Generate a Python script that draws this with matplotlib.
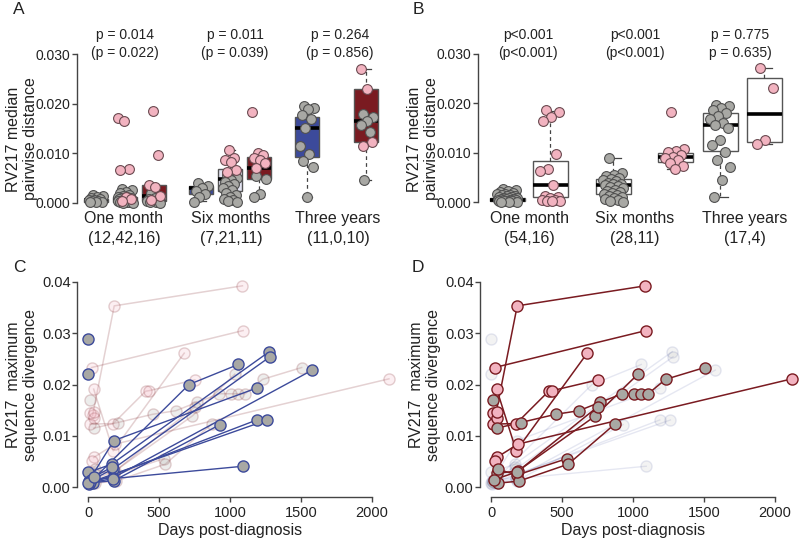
import matplotlib
matplotlib.use('Agg')
import matplotlib.pyplot as plt
import numpy as np

plt.rcParams['font.family'] = ['Liberation Sans', 'DejaVu Sans']

# ------------------------------------------------------------------ data
# Panel A: boxes (order: OM blue, OM lavender, OM red, SM blue, SM lav, SM red, TY blue, TY red)
a_group_labels = ['One month', 'Six months', 'Three years']
a_counts = ['(12,42,16)', '(7,21,11)', '(11,0,10)']
a_p_main = ['p = 0.014', 'p = 0.011', 'p = 0.264']
a_p_sub = ['(p = 0.022)', '(p = 0.039)', '(p = 0.856)']
a_med = [0.0005, 0.0005, 0.0014, 0.0030, 0.0047, 0.0071, 0.0151, 0.0166]
a_q1 = [0.0002, 0.0002, 0.0004, 0.0017, 0.0024, 0.0048, 0.0093, 0.0123]
a_q3 = [0.0008, 0.0012, 0.0035, 0.0033, 0.0068, 0.0093, 0.0173, 0.0229]
a_wlo = [0.0000, 0.0000, 0.0000, 0.0003, 0.0001, 0.0011, 0.0011, 0.0046]
a_whi = [0.0015, 0.0028, 0.0036, 0.0039, 0.0106, 0.0100, 0.0195, 0.0270]
a_box_kind = ['blue', 'lav', 'red', 'blue', 'lav', 'red', 'blue', 'red']

a_grey_pts = [
    [0.0015, 0.0013, 0.0011, 0.0009, 0.0007, 0.0006, 0.0005, 0.0004, 0.0003, 0.0002, 0.0002, 0.0001],
    [0.0028, 0.0025, 0.0022, 0.0019, 0.0016, 0.0014, 0.0012, 0.0011, 0.0010, 0.0009, 0.0008,
     0.0007, 0.0006, 0.0006, 0.0005, 0.0005, 0.0004, 0.0004, 0.0003, 0.0003, 0.0002, 0.0002,
     0.0002, 0.0001, 0.0001, 0.0001, 0.0000, 0.0000],
    [0.0019, 0.0012, 0.0010, 0.0008, 0.0005, 0.0004, 0.0003, 0.0002, 0.0001, 0.0000],
    [0.0039, 0.0033, 0.0030, 0.0024, 0.0017, 0.0012, 0.0001],
    [0.0056, 0.0050, 0.0046, 0.0042, 0.0037, 0.0033, 0.0029, 0.0025, 0.0020, 0.0016, 0.0012,
     0.0008, 0.0005, 0.0003, 0.0001],
    [0.0053, 0.0047, 0.0017, 0.0012],
    [0.0195, 0.0192, 0.0190, 0.0178, 0.0170, 0.0150, 0.0114, 0.0099, 0.0085, 0.0072, 0.0011],
    [0.0179, 0.0174, 0.0166, 0.0157, 0.0143, 0.0046],
]
a_pink_pts = [
    [],
    [0.0171, 0.0166, 0.0068, 0.0066, 0.0012, 0.0008, 0.0004],
    [0.0186, 0.0097, 0.0035, 0.0031, 0.0014, 0.0006],
    [],
    [0.0106, 0.0090, 0.0087, 0.0083, 0.0067, 0.0062],
    [0.0183, 0.0100, 0.0097, 0.0090, 0.0086, 0.0080, 0.0071],
    [],
    [0.0270, 0.0229, 0.0123, 0.0115],
]

# Panel B: boxes (order: OM grey, OM pink, SM grey, SM pink, TY grey, TY pink)
b_group_labels = ['One month', 'Six months', 'Three years']
b_counts = ['(54,16)', '(28,11)', '(17,4)']
b_p_main = ['p<0.001', 'p<0.001', 'p = 0.775']
b_p_sub = ['(p<0.001)', '(p<0.001)', 'p = 0.635)']
b_med = [0.0004, 0.0034, 0.0034, 0.0091, 0.0157, 0.0179]
b_q1 = [0.0002, 0.0011, 0.0016, 0.0081, 0.0103, 0.0121]
b_q3 = [0.0008, 0.0083, 0.0048, 0.0100, 0.0180, 0.0252]
b_wlo = [0.0000, 0.0002, 0.0000, 0.0068, 0.0011, 0.0117]
b_whi = [0.0016, 0.0185, 0.0089, 0.0108, 0.0196, 0.0272]
b_pts = [
    [0.0027, 0.0025, 0.0023, 0.0021, 0.0019, 0.0017, 0.0016, 0.0015, 0.0014, 0.0013, 0.0012,
     0.0011, 0.0010, 0.0009, 0.0008, 0.0008, 0.0007, 0.0006, 0.0006, 0.0005, 0.0005, 0.0004,
     0.0004, 0.0003, 0.0003, 0.0002, 0.0002, 0.0001, 0.0001, 0.0000],
    [0.0186, 0.0183, 0.0172, 0.0165, 0.0097, 0.0068, 0.0064, 0.0034, 0.0012, 0.0010, 0.0008,
     0.0005, 0.0004, 0.0003, 0.0002, 0.0002],
    [0.0089, 0.0060, 0.0056, 0.0053, 0.0050, 0.0048, 0.0046, 0.0043, 0.0040, 0.0038, 0.0036,
     0.0034, 0.0032, 0.0030, 0.0028, 0.0025, 0.0022, 0.0020, 0.0018, 0.0016, 0.0014, 0.0012,
     0.0010, 0.0008, 0.0006, 0.0004, 0.0002, 0.0000],
    [0.0183, 0.0107, 0.0104, 0.0101, 0.0096, 0.0092, 0.0089, 0.0085, 0.0080, 0.0074, 0.0068],
    [0.0196, 0.0194, 0.0191, 0.0186, 0.0180, 0.0175, 0.0168, 0.0160, 0.0157, 0.0151, 0.0125,
     0.0116, 0.0102, 0.0086, 0.0072, 0.0046, 0.0011],
    [0.0272, 0.0232, 0.0125, 0.0117],
]
b_pt_kind = ['grey', 'pink', 'grey', 'pink', 'grey', 'pink']

# Panels C/D: per-patient trajectories
blue_days = [
    [14, 711, 1059], [5, 181, 1188], [0, 165, 1278], [10, 176, 1283], [20, 172, 1581],
    [30, 181, 930], [5, 1189], [15, 1264], [0, 176, 1094], [0], [0], [40, 170],
]
blue_vals = [
    [0.0010, 0.0200, 0.0239], [0.0013, 0.0091, 0.0193], [0.0029, 0.0045, 0.0264],
    [0.0012, 0.0036, 0.0254], [0.0015, 0.0018, 0.0228], [0.0009, 0.0013, 0.0122],
    [0.0006, 0.0131], [0.0010, 0.0131], [0.0008, 0.0017, 0.0041], [0.0288], [0.0220],
    [0.0020, 0.0040],
]
red_days = [
    [23, 1093], [30, 183, 1088], [38, 176, 677], [12, 176, 405, 430, 752], [38, 188, 2122],
    [25], [9], [38], [38],
    [38, 207, 454, 618, 764, 926, 1006, 1058, 1107, 1230, 1506],
    [38, 190, 735, 1034], [45, 183, 536], [45, 195, 543, 872], [12], [20, 183, 752],
]
red_vals = [
    [0.0233, 0.0305], [0.0140, 0.0353, 0.0392], [0.0191, 0.0071, 0.0261],
    [0.0123, 0.0124, 0.0187, 0.0188, 0.0209], [0.0058, 0.0084, 0.0211],
    [0.0051], [0.0144], [0.0134], [0.0147],
    [0.0115, 0.0126, 0.0142, 0.0149, 0.0165, 0.0182, 0.0182, 0.0182, 0.0182, 0.0210, 0.0233],
    [0.0027, 0.0032, 0.0139, 0.0220], [0.0035, 0.0024, 0.0056], [0.0008, 0.0012, 0.0045, 0.0123],
    [0.0170], [0.0015, 0.0030, 0.0157],
]
red_is_pink = [True, True, True, True, True, True, True, True, True,
               False, False, False, False, False, False]

# ------------------------------------------------------------------ style
W, H = 800, 543
C_BLUE = '#3C4A9B'
C_LAV = '#E3E4F2'
C_RED = '#7A1B21'
C_GREY_PT = '#A8A8A4'
C_PINK_PT = '#F2B3C0'
C_TXT = '#222222'
C_AX = '#444444'
box_fill = {'blue': C_BLUE, 'lav': C_LAV, 'red': C_RED}

fig = plt.figure(figsize=(W / 100, H / 100), dpi=100)


def px_axes(l, t, r, b):
    return fig.add_axes([l / W, 1 - b / H, (r - l) / W, (b - t) / H])


def ftext(x, y, s, **kw):
    kw.setdefault('color', C_TXT)
    return fig.text(x / W, 1 - y / H, s, **kw)


def jitter(n, half):
    k = np.arange(n)
    return (((k * 0.618034 + 0.31) % 1.0) - 0.5) * 2 * half


def style_box_axes(ax, ymax):
    for s in ['top', 'right', 'bottom']:
        ax.spines[s].set_visible(False)
    ax.spines['left'].set_bounds(0, ymax)
    ax.spines['left'].set_color(C_AX)
    ax.spines['left'].set_linewidth(1.0)
    ax.set_xticks([])
    ax.tick_params(axis='y', length=3.6, width=1.0, color=C_AX, pad=1.0,
                   labelsize=10, labelcolor=C_TXT)


def draw_boxes(ax, pos, width, med, q1, q3, wlo, whi, fills, edge):
    stats = []
    for i in range(len(med)):
        stats.append(dict(med=med[i], q1=q1[i], q3=q3[i], whislo=wlo[i], whishi=whi[i], fliers=[]))
    res = ax.bxp(stats, positions=pos, widths=width, patch_artist=True, showfliers=False,
                 capwidths=width * 0.45,
                 boxprops=dict(edgecolor=edge, linewidth=1.0),
                 medianprops=dict(color='black', linewidth=2.6, solid_capstyle='butt'),
                 whiskerprops=dict(color=C_AX, linewidth=0.9, linestyle=(0, (3, 2.5))),
                 capprops=dict(color=C_AX, linewidth=0.9), manage_ticks=False)
    for b, f in zip(res['boxes'], fills):
        b.set_facecolor(f)
        b.set_zorder(2)
    for m in res['medians']:
        m.set_zorder(3)


# ------------------------------------------------------------------ panel A
y0a, sca = 202.7, 4947.0
axA = px_axes(77, 40, 395, 210)
axA.set_xlim(0, 318)
axA.set_ylim(-(210 - y0a) / sca, (y0a - 40) / sca)
posA = [19, 48, 77, 124, 153, 182, 230, 289]
wA = 24
draw_boxes(axA, posA, wA, a_med, a_q1, a_q3, a_wlo, a_whi,
           [box_fill[k] for k in a_box_kind], '#555555')
for i, p in enumerate(posA):
    g = a_grey_pts[i]
    pk = a_pink_pts[i]
    if g:
        axA.scatter(p + jitter(len(g), wA * 0.32), g, s=50, c=C_GREY_PT,
                    edgecolors='#505050', linewidths=0.8, zorder=4, clip_on=False)
    if pk:
        axA.scatter(p + jitter(len(pk), wA * 0.3)[::-1], pk, s=50, c=C_PINK_PT,
                    edgecolors='#6a4a50', linewidths=0.8, zorder=5, clip_on=False)
axA.set_yticks([0, 0.01, 0.02, 0.03])
axA.set_yticklabels(['0.000', '0.010', '0.020', '0.030'])
style_box_axes(axA, 0.03)

for cx, lab, cnt in zip([124, 231, 338], a_group_labels, a_counts):
    ftext(cx, 223, lab, ha='center', va='baseline', fontsize=11.5)
    ftext(cx, 243, cnt, ha='center', va='baseline', fontsize=11.5)
for cx, p1, p2 in zip([125, 235, 340], a_p_main, a_p_sub):
    ftext(cx, 38.5, p1, ha='center', va='baseline', fontsize=10)
    ftext(cx, 57.5, p2, ha='center', va='baseline', fontsize=10)
ftext(22, 139, 'RV217 median\npairwise distance', rotation=90, ha='center', va='center',
      fontsize=11.5, linespacing=1.15)

# ------------------------------------------------------------------ panel B
axB = px_axes(478, 40, 798, 210)
axB.set_xlim(0, 320)
axB.set_ylim(-(210 - 202.3) / sca, (202.3 - 40) / sca)
posB = [29, 72, 135, 197, 242, 286]
wB = 35
draw_boxes(axB, posB, wB, b_med, b_q1, b_q3, b_wlo, b_whi, ['white'] * 6, '#555555')
for i, p in enumerate(posB):
    v = b_pts[i]
    if b_pt_kind[i] == 'grey':
        fc, ec = C_GREY_PT, '#505050'
    else:
        fc, ec = C_PINK_PT, '#6a4a50'
    axB.scatter(p + jitter(len(v), wB * 0.3), v, s=50, c=fc, edgecolors=ec,
                linewidths=0.8, zorder=4, clip_on=False)
axB.set_yticks([0, 0.01, 0.02, 0.03])
axB.set_yticklabels(['0.000', '0.010', '0.020', '0.030'])
style_box_axes(axB, 0.03)

for cx, lab, cnt in zip([529, 635, 745], b_group_labels, b_counts):
    ftext(cx, 223, lab, ha='center', va='baseline', fontsize=11.5)
    ftext(cx, 243, cnt, ha='center', va='baseline', fontsize=11.5)
for cx, p1, p2 in zip([528, 635, 740], b_p_main, b_p_sub):
    ftext(cx, 38.5, p1, ha='center', va='baseline', fontsize=10)
    ftext(cx, 57.5, p2, ha='center', va='baseline', fontsize=10)
ftext(423, 139, 'RV217 median\npairwise distance', rotation=90, ha='center', va='center',
      fontsize=11.5, linespacing=1.15)

# ------------------------------------------------------------------ panels C / D
def traj_axes(l, r):
    ax = px_axes(l, 275, r, 497)
    x_left = -(88.3 - 77) / 0.14167
    ax.set_xlim(x_left, x_left + (r - l) / 0.14167)
    ax.set_ylim(-(497 - 487.3) / 5140.0, (487.3 - 275) / 5140.0)
    for s in ['top', 'right']:
        ax.spines[s].set_visible(False)
    ax.spines['left'].set_bounds(0, 0.04)
    ax.spines['bottom'].set_bounds(0, 2000)
    for s in ['left', 'bottom']:
        ax.spines[s].set_color(C_AX)
        ax.spines[s].set_linewidth(1.0)
    ax.set_xticks([0, 500, 1000, 1500, 2000])
    ax.set_yticks([0, 0.01, 0.02, 0.03, 0.04])
    ax.set_yticklabels(['0.00', '0.01', '0.02', '0.03', '0.04'])
    ax.tick_params(axis='both', length=3.6, width=1.0, color=C_AX,
                   labelsize=10.5, labelcolor=C_TXT)
    ax.tick_params(axis='y', pad=1.0)
    ax.tick_params(axis='x', pad=3.0)
    return ax


def draw_blue(ax, faded):
    a = 0.13 if faded else 1.0
    for d, v in zip(blue_days, blue_vals):
        ax.plot(d, v, '-', color=C_BLUE, lw=1.0, alpha=a, zorder=1 if faded else 3,
                clip_on=False)
        ax.plot(d, v, 'o', ms=8, mfc=C_GREY_PT, mec=C_BLUE, mew=1.0, alpha=a, ls='none',
                zorder=2 if faded else 4, clip_on=False)


def draw_red(ax, faded):
    a = 0.2 if faded else 1.0
    for d, v, pk in zip(red_days, red_vals, red_is_pink):
        ax.plot(d, v, '-', color=C_RED, lw=1.1, alpha=a, zorder=1 if faded else 3,
                clip_on=False)
        ax.plot(d, v, 'o', ms=8, mfc=C_PINK_PT if pk else C_GREY_PT, mec=C_RED, mew=1.0,
                alpha=a, ls='none', zorder=2 if faded else 4, clip_on=False)


axC = traj_axes(77, 395)
draw_red(axC, True)
draw_blue(axC, False)
axD = traj_axes(480, 798)
draw_blue(axD, True)
draw_red(axD, False)

for xoff in [0, 403]:
    ftext(230 + xoff, 535, 'Days post-diagnosis', ha='center', va='baseline', fontsize=11.5)
    ftext(22 + xoff, 385, 'RV217  maximum\nsequence divergence', rotation=90, ha='center',
          va='center', fontsize=11.5, linespacing=1.15)

# ------------------------------------------------------------------ panel letters
ftext(19, 10, 'A', ha='center', va='center', fontsize=12.5)
ftext(418, 10, 'B', ha='center', va='center', fontsize=12.5)
ftext(19, 267, 'C', ha='center', va='center', fontsize=12.5)
ftext(418, 267, 'D', ha='center', va='center', fontsize=12.5)

fig.savefig('out.png', dpi=100)
